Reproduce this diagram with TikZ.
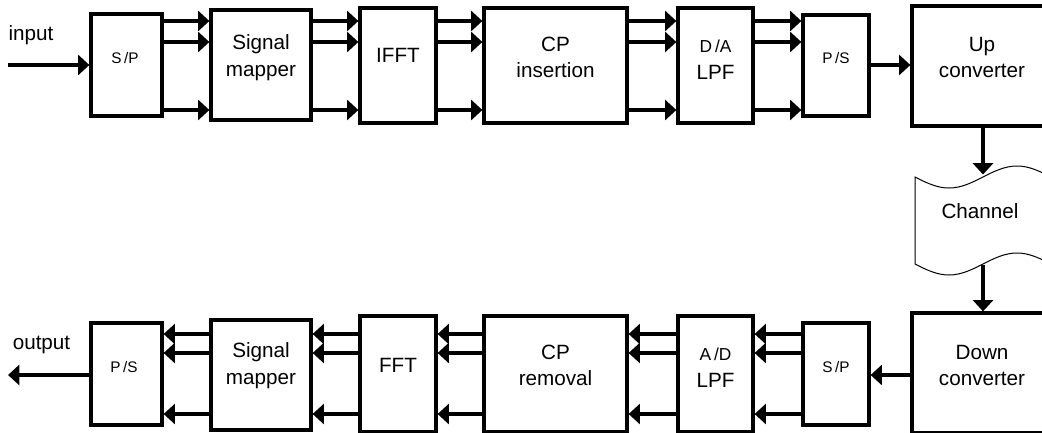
\documentclass[tikz,border=0pt]{standalone}
\usepackage{fontspec}
\setmainfont{Liberation Sans}
\usetikzlibrary{arrows.meta}

\tikzset{every picture/.style={line width=0.75pt}}
\tikzset{
  blk/.style={draw, line width=2.4pt, inner sep=0pt},
  lbl/.style={inner sep=0pt, align=center, font=\fontsize{15.5}{20}\selectfont},
  sml/.style={inner sep=0pt, align=center, font=\fontsize{11.5}{13}\selectfont},
  arr/.style={line width=2.4pt, -{Triangle[length=8.5pt,width=15pt]}},
}

\begin{document}
\begin{tikzpicture}[x=0.75pt,y=0.75pt,yscale=-1,xscale=1]
\useasboundingbox (0,0) rectangle (1042,432);

% transmitter blocks
\node [blk, minimum width=53.25pt, minimum height=76.5pt] (sp1) at (126.5,65) {};
\node [blk, minimum width=75pt, minimum height=82.5pt] (map1) at (261,65) {};
\node [blk, minimum width=57pt, minimum height=86.25pt] (ifft) at (398,65.5) {};
\node [blk, minimum width=107.25pt, minimum height=86.25pt] (cpi) at (555.5,65.5) {};
\node [blk, minimum width=56.25pt, minimum height=86.25pt] (da) at (715.5,65.5) {};
\node [blk, minimum width=49.5pt, minimum height=75.75pt] (ps1) at (836,65.5) {};
\node [blk, minimum width=106.5pt, minimum height=90pt] (up) at (983,66) {};

% channel
\node [inner sep=0pt, minimum width=102pt, minimum height=66.75pt] (chan) at (983,219.5) {};
\draw (915,177) sin (949,188) cos (983,177) sin (1017,166) cos (1051,177) -- (1051,264)
      sin (1017,253) cos (983,264) sin (949,275) cos (915,264) -- cycle;

% receiver blocks
\node [blk, minimum width=106.5pt, minimum height=90pt] (down) at (983,373) {};
\node [blk, minimum width=49.5pt, minimum height=76.5pt] (sp2) at (836,374) {};
\node [blk, minimum width=56.25pt, minimum height=87pt] (ad) at (715.5,374) {};
\node [blk, minimum width=107.25pt, minimum height=87pt] (cpr) at (555.5,374) {};
\node [blk, minimum width=57pt, minimum height=87pt] (fft) at (398,374) {};
\node [blk, minimum width=75pt, minimum height=82.5pt] (map2) at (261,375) {};
\node [blk, minimum width=53.25pt, minimum height=76.5pt] (ps2) at (126.5,374) {};

% texts
\node [lbl] (tin) at (31,35.5) {input};
\node [sml] (tsp1) at (125,58) {S\,/P};
\node [lbl] (tmap1) at (261,57.5) {Signal\\mapper};
\node [lbl] (tifft) at (398,55) {IFFT};
\node [lbl] (tcpi) at (555.5,57.5) {CP\\insertion};
\node [lbl] (tda) at (715.5,59.5) {{\fontsize{13}{15}\selectfont D\,/A}\\LPF};
\node [sml] (tps1) at (836,58) {P\,/S};
\node [lbl] (tup) at (982,57.5) {Up\\converter};
\node [lbl] (tchan) at (980,211) {Channel};
\node [lbl] (tdown) at (982,365.5) {Down\\converter};
\node [sml] (tsp2) at (836,367) {S\,/P};
\node [lbl] (tad) at (715.5,367.5) {{\fontsize{13}{15}\selectfont A\,/D}\\LPF};
\node [lbl] (tcpr) at (555.5,365.5) {CP\\removal};
\node [lbl] (tfft) at (398,365) {FFT};
\node [lbl] (tmap2) at (261,365.5) {Signal\\mapper};
\node [sml] (tps2) at (124,367) {P\,/S};
\node [lbl] (tout) at (41.5,344.5) {output};

% ends
\coordinate (in) at (8,65);
\coordinate (out) at (8,375);

% transmitter arrows
\draw [arr] (in) -- (sp1.west |- in);
\draw [arr] (sp1.east |- 0,21) -- (map1.west |- 0,21);
\draw [arr] (sp1.east |- 0,42) -- (map1.west |- 0,42);
\draw [arr] (sp1.east |- 0,110) -- (map1.west |- 0,110);
\draw [arr] (map1.east |- 0,21) -- (ifft.west |- 0,21);
\draw [arr] (map1.east |- 0,42) -- (ifft.west |- 0,42);
\draw [arr] (map1.east |- 0,110) -- (ifft.west |- 0,110);
\draw [arr] (ifft.east |- 0,21) -- (cpi.west |- 0,21);
\draw [arr] (ifft.east |- 0,42) -- (cpi.west |- 0,42);
\draw [arr] (ifft.east |- 0,110) -- (cpi.west |- 0,110);
\draw [arr] (cpi.east |- 0,21) -- (da.west |- 0,21);
\draw [arr] (cpi.east |- 0,42) -- (da.west |- 0,42);
\draw [arr] (cpi.east |- 0,110) -- (da.west |- 0,110);
\draw [arr] (da.east |- 0,21) -- (ps1.west |- 0,21);
\draw [arr] (da.east |- 0,42) -- (ps1.west |- 0,42);
\draw [arr] (da.east |- 0,110) -- (ps1.west |- 0,110);
\draw [arr] (ps1.east |- 0,65) -- (up.west |- 0,65);

% through the channel
\draw [arr] (up) -- (chan.north);
\draw [arr] (chan.south) -- (down);

% receiver arrows
\draw [arr] (down.west |- 0,375) -- (sp2.east |- 0,375);
\draw [arr] (sp2.west |- 0,334) -- (ad.east |- 0,334);
\draw [arr] (sp2.west |- 0,353) -- (ad.east |- 0,353);
\draw [arr] (sp2.west |- 0,414) -- (ad.east |- 0,414);
\draw [arr] (ad.west |- 0,334) -- (cpr.east |- 0,334);
\draw [arr] (ad.west |- 0,353) -- (cpr.east |- 0,353);
\draw [arr] (ad.west |- 0,414) -- (cpr.east |- 0,414);
\draw [arr] (cpr.west |- 0,334) -- (fft.east |- 0,334);
\draw [arr] (cpr.west |- 0,353) -- (fft.east |- 0,353);
\draw [arr] (cpr.west |- 0,414) -- (fft.east |- 0,414);
\draw [arr] (fft.west |- 0,334) -- (map2.east |- 0,334);
\draw [arr] (fft.west |- 0,353) -- (map2.east |- 0,353);
\draw [arr] (fft.west |- 0,414) -- (map2.east |- 0,414);
\draw [arr] (map2.west |- 0,334) -- (ps2.east |- 0,334);
\draw [arr] (map2.west |- 0,353) -- (ps2.east |- 0,353);
\draw [arr] (map2.west |- 0,414) -- (ps2.east |- 0,414);
\draw [arr] (ps2.west |- out) -- (out);
\end{tikzpicture}
\end{document}
